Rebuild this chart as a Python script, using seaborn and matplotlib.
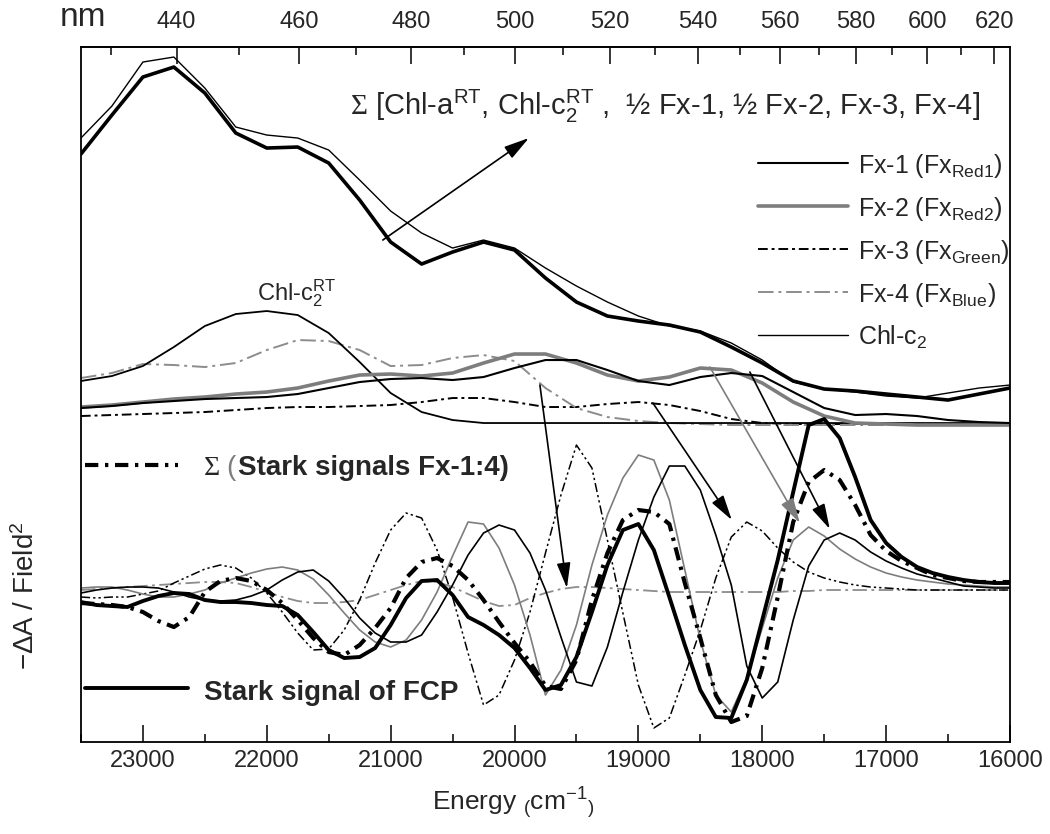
import numpy as np
import matplotlib
matplotlib.use('Agg')
import matplotlib.pyplot as plt
import seaborn as sns

sns.set_theme(style="white")
plt.rcParams['font.family'] = ['Liberation Sans', 'DejaVu Sans']
plt.rcParams['mathtext.fontset'] = 'custom'
plt.rcParams['mathtext.rm'] = 'Liberation Sans'
plt.rcParams['mathtext.it'] = 'Liberation Sans:italic'
plt.rcParams['mathtext.bf'] = 'Liberation Sans:bold'
plt.rcParams['mathtext.cal'] = 'Liberation Serif'

# ==========================================
# Data (energy in cm-1, signals in arbitrary units)
# ==========================================
energy_abs = [23500, 23250, 23000, 22750, 22500, 22250, 22000, 21750, 21500, 21250,
              21000, 20750, 20500, 20250, 20000, 19750, 19500, 19250, 19000, 18750,
              18500, 18250, 18000, 17750, 17500, 17250, 17000, 16750, 16500, 16250, 16000]

energy_stark = [23500, 23375, 23250, 23125, 23000, 22875, 22750, 22625, 22500, 22375,
                22250, 22125, 22000, 21875, 21750, 21625, 21500, 21375, 21250, 21125,
                21000, 20875, 20750, 20625, 20500, 20375, 20250, 20125, 20000, 19875,
                19750, 19625, 19500, 19375, 19250, 19125, 19000, 18875, 18750, 18625,
                18500, 18375, 18250, 18125, 18000, 17875, 17750, 17625, 17500, 17375,
                17250, 17125, 17000, 16875, 16750, 16625, 16500, 16375, 16250, 16125, 16000]

# absorption spectra
abs_fcp = [269, 308, 346, 356, 330, 290, 275, 276, 260, 223, 181, 159, 171, 181, 173, 145,
           121, 107, 102, 98, 91, 76, 60, 42, 34, 32, 29, 26, 23, 29, 35]
abs_sum = [285, 317, 361, 366, 335, 296, 288, 285, 273, 243, 212, 190, 175, 183, 175, 155,
           137, 121, 107, 97, 92, 80, 63, 41, 34, 31, 27, 25, 30, 35, 38]
abs_chlc2 = [42, 47, 57, 76, 97, 109, 112, 108, 90, 61, 30, 11, 3, 0, 0, 0,
             0, 0, 0, 0, 0, 0, 0, 0, 0, 0, 0, 0, 0, 0, 0]
abs_fx1 = [15, 17, 20, 22, 24, 25, 26, 29, 35, 41, 44, 45, 43, 46, 55, 63,
           63, 53, 42, 38, 46, 50, 47, 31, 15, 8, 9, 7, 3, 1, 0]
abs_fx2 = [16, 18, 21, 24, 26, 29, 31, 35, 42, 48, 49, 47, 50, 60, 69, 69,
           60, 48, 42, 46, 55, 53, 40, 21, 7, 0, -1, -2, -2, -2, -2]
abs_fx3 = [7, 8, 9, 10, 11, 13, 15, 16, 16, 17, 18, 21, 25, 25, 21, 16,
           16, 19, 21, 18, 12, 4, 0, -1, -1, -1, -1, -1, -1, -1, -1]
abs_fx4 = [45, 50, 59, 58, 56, 60, 73, 83, 82, 73, 57, 58, 65, 68, 62, 35,
           15, 6, 2, 0, -1, -2, -2, -2, -2, -2, -2, -2, -2, -2, -2]

# Stark spectra
stark_fcp = [-12, -15, -16, -17, -11, -6, -3, -4, -10, -12, -12, -13, -15, -16, -25, -42,
             -60, -68, -67, -58, -35, -8, 9, 10, -5, -27, -35, -45, -58, -78, -100, -95,
             -67, -22, 25, 60, 66, 40, -7, -55, -100, -127, -128, -90, -30, 30, 98, 165,
             171, 152, 113, 70, 47, 33, 23, 17, 13, 10, 8, 7, 7]
stark_sum = [-13, -14, -15, -17, -22, -31, -37, -27, -2, 9, 12, 9, 0, -13, -30, -48,
             -62, -65, -55, -38, -18, 12, 28, 32, 24, 10, -10, -32, -53, -72, -96, -99,
             -70, -10, 37, 70, 80, 78, 66, 7, -48, -105, -132, -126, -78, -7, 68, 108,
             120, 110, 85, 55, 39, 29, 22, 15, 12, 9, 8, 8, 8]
stark_fx1 = [-3, 0, 2, 3, 3, 2, -2, -7, -10, -11, -10, -6, 0, 10, 18, 20,
             9, -8, -28, -43, -52, -52, -45, -22, 5, 35, 57, 65, 60, 37, 0, -47,
             -92, -96, -57, -2, 50, 93, 124, 124, 100, 55, 5, -76, -108, -92, -30, 24,
             50, 57, 50, 38, 29, 22, 16, 12, 8, 4, 3, 2, 2]
stark_fx2 = [2, 3, 3, 0, -4, -7, -7, -4, 0, 7, 12, 17, 21, 23, 20, 11,
             -5, -23, -40, -52, -57, -50, -30, -2, 34, 68, 66, 42, 5, -45, -105, -80,
             -35, 25, 75, 112, 135, 130, 90, 20, -50, -105, -122, -88, -38, 12, 50, 63,
             54, 41, 31, 23, 17, 13, 10, 8, 6, 5, 4, 3, 3]
stark_fx3 = [-7, -8, -7, -7, -4, -1, 7, 14, 21, 25, 22, 12, -3, -22, -43, -60,
             -59, -40, -10, 27, 60, 77, 72, 40, -7, -63, -115, -105, -70, -22, 37, 95,
             145, 122, 50, -23, -95, -138, -128, -85, -40, 12, 53, 68, 59, 42, 28, 18,
             12, 8, 5, 3, 2, 1, 0, 0, 0, 0, 0, 0, 0]
stark_fx4 = [0, 1, 2, 3, 4, 5, 6, 7, 8, 8, 7, 3, -2, -7, -11, -13,
             -13, -12, -10, -5, 0, 5, 9, 8, 3, -4, -11, -16, -15, -8, -3, 1,
             3, 3, 2, 1, 0, -1, -2, -2, -2, -2, -2, -2, -2, -2, -1, -1,
             0, 0, 0, 0, 0, 0, 0, 0, 0, 0, 0, 0, 0]

nm_major = [440, 460, 480, 500, 520, 540, 560, 580, 600, 620]
nm_minor = [430, 450, 470, 490, 510, 530, 550, 570, 590, 610]

# vertical offset of the absorption block above the Stark block
ABS_OFFSET = 167

GRAY = '#7d7d7d'
LGRAY = '#8c8c8c'

style_fx1 = dict(color='black', lw=1.5)
style_fx2 = dict(color=GRAY, lw=2.6)
style_fx3 = dict(color='black', lw=1.4, linestyle=(0, (5, 2, 1.5, 2)))
style_fx4 = dict(color=LGRAY, lw=1.4, linestyle=(0, (8, 2.5, 1.5, 2.5)))
style_sum_stark = dict(color='black', lw=3.0, linestyle=(0, (3.2, 1.6, 0.8, 1.6)))
style_fcp_stark = dict(color='black', lw=2.8)


def draw(ax, x, y, offset=0, **kw):
    sns.lineplot(x=x, y=np.asarray(y) + offset, ax=ax, estimator=None, sort=False, **kw)


fig = plt.figure(figsize=(10.5, 8.34), dpi=100)
ax = fig.add_axes([0.0771, 0.1103, 0.8848, 0.8333])

# absorption components
draw(ax, energy_abs, abs_fx3, ABS_OFFSET, **style_fx3)
draw(ax, energy_abs, abs_fx4, ABS_OFFSET, **style_fx4)
draw(ax, energy_abs, abs_chlc2, ABS_OFFSET, color='black', lw=1.3)
draw(ax, energy_abs, abs_fx2, ABS_OFFSET, **style_fx2)
draw(ax, energy_abs, abs_fx1, ABS_OFFSET, **style_fx1)
draw(ax, energy_abs, abs_sum, ABS_OFFSET, color='black', lw=1.0)
draw(ax, energy_abs, abs_fcp, ABS_OFFSET, color='black', lw=2.6)

# Stark components
draw(ax, energy_stark, stark_fx4, **dict(style_fx4, lw=1.3))
draw(ax, energy_stark, stark_fx3, color='black', lw=1.1, linestyle=(0, (6, 2, 1.5, 2, 1.5, 2)))
draw(ax, energy_stark, stark_fx2, color=GRAY, lw=1.2)
draw(ax, energy_stark, stark_fx1, color='black', lw=1.2)
draw(ax, energy_stark, stark_sum, **style_sum_stark)
draw(ax, energy_stark, stark_fcp, **style_fcp_stark)

ax.set_xlim(23500, 16000)
ax.set_ylim(-152, 543)
ax.set_yticks([])

for sp in ax.spines.values():
    sp.set_color('black')
    sp.set_linewidth(1.3)

ax.set_xticks([23000, 22000, 21000, 20000, 19000, 18000, 17000, 16000])
ax.set_xticks([23500, 22500, 21500, 20500, 19500, 18500, 17500, 16500], minor=True)
ax.tick_params(axis='x', which='both', direction='in', bottom=True, top=False,
               width=1.1, color='black', labelsize=17, pad=6)
ax.tick_params(axis='x', which='major', length=12)
ax.tick_params(axis='x', which='minor', length=6)


def e2nm(e):
    e = np.asarray(e, dtype=float)
    with np.errstate(divide='ignore'):
        return 1e7 / e


top = ax.secondary_xaxis('top', functions=(e2nm, e2nm))
top.set_xticks(nm_major)
top.set_xticks(nm_minor, minor=True)
top.tick_params(axis='x', which='both', direction='in', width=1.1, color='black',
                labelsize=17, pad=10)
top.tick_params(axis='x', which='major', length=12)
top.tick_params(axis='x', which='minor', length=6)
top.spines['top'].set_linewidth(1.3)

fig.text(0.079, 0.979, 'nm', fontsize=24, ha='center', va='center')

ax.set_xlabel(r"Energy $_{\rm (}{\rm cm}^{-1}{}_{\rm )}$", fontsize=19)
ax.xaxis.set_label_coords(0.465, -0.062)
ax.set_ylabel(r"$-$$\Delta$A / Field$^2$", fontsize=20)
ax.yaxis.set_label_coords(-0.044, 0.21)

# annotations
ax.text(0.2896, 0.902, r"$\mathcal{\Sigma}$ [Chl-a$^{\rm RT}$, Chl-c$_{\rm 2}^{\rm RT}$ ,  ½ Fx-1, ½ Fx-2, Fx-3, Fx-4]",
        transform=ax.transAxes, fontsize=21, va='baseline', ha='left')
ax.text(0.1895, 0.636, r"Chl-c$_{\rm 2}^{\rm RT}$", transform=ax.transAxes,
        fontsize=17, va='baseline', ha='left')

arrows = [((21063, 350), (19884, 452), 'black'),
          ((19795, 205), (19577, 2), 'black'),
          ((18883, 187), (18246, 70), 'black'),
          ((18423, 223), (17697, 67), GRAY),
          ((18100, 218), (17455, 61), 'black')]
for start, end, col in arrows:
    ax.annotate('', xy=end, xytext=start,
                arrowprops=dict(arrowstyle='-|>,head_length=1.1,head_width=0.3', color=col,
                                lw=1.2, mutation_scale=14, shrinkA=0, shrinkB=0))

# upper legend
legend_rows = [(r"Fx-1 (Fx$_{\rm Red1}$)", style_fx1),
               (r"Fx-2 (Fx$_{\rm Red2}$)", style_fx2),
               (r"Fx-3 (Fx$_{\rm Green}$)", style_fx3),
               (r"Fx-4 (Fx$_{\rm Blue}$)", style_fx4),
               (r"Chl-c$_{\rm 2}$", dict(color='black', lw=1.0))]
for i, (label, st) in enumerate(legend_rows):
    yy = 0.8331 - i * 0.0619
    ax.plot([0.7287, 0.8256], [yy, yy], transform=ax.transAxes, **st)
    ax.text(0.8364, yy - 0.0144, label, transform=ax.transAxes, fontsize=18, va='baseline')

# lower legend
ax.plot([0.0043, 0.1044], [0.3986, 0.3986], transform=ax.transAxes, **style_sum_stark)
ax.text(0.1313, 0.3842, r"$\mathcal{\Sigma}$", transform=ax.transAxes, fontsize=20, va='baseline')
ax.text(0.1566, 0.3842, "(", transform=ax.transAxes, fontsize=20, va='baseline', color=GRAY)
ax.text(0.169, 0.3842, "Stark signals Fx-1:4)", transform=ax.transAxes, fontsize=20,
        fontweight='bold', va='baseline')
ax.plot([0.0043, 0.1152], [0.0777, 0.0777], transform=ax.transAxes, **style_fcp_stark)
ax.text(0.1324, 0.0604, "Stark signal of FCP", transform=ax.transAxes, fontsize=20,
        fontweight='bold', va='baseline')

fig.savefig('out.png', dpi=100, facecolor='white')
